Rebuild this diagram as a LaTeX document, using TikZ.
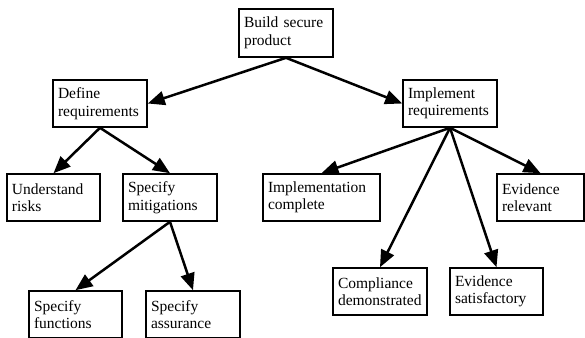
\documentclass[tikz,border=0pt]{standalone}
\usepackage{fontspec}
\setmainfont{Liberation Serif}
\usetikzlibrary{arrows.meta}
\begin{document}
\begin{tikzpicture}[x=1pt,y=-1pt,
  box/.style={draw=black,line width=1.6pt,fill=white,inner xsep=5pt,inner ysep=0pt,
    minimum height=47pt,align=left,font=\fontsize{15.5}{17.5}\selectfont},
  arr/.style={line width=2.5pt,-{Triangle[length=17pt,width=14pt]}}]
\useasboundingbox (0,0) rectangle (585,337);
\clip (0,0) rectangle (585,337);
\fill[white] (0,0) rectangle (585,337);
\node[box,minimum height=48pt,text width=84pt] (build) at (286,33) {Build secure\\product};
\node[box,text width=84pt] (def) at (100,103.5) {Define\\requirements};
\node[box,text width=84pt] (imp) at (450,103.5) {Implement\\requirements};
\node[box,text width=83pt] (und) at (53.5,197.5) {Understand\\risks};
\node[box,text width=84pt] (mit) at (170,197.5) {Specify\\mitigations};
\node[box,text width=83pt] (fun) at (75.5,314.5) {Specify\\functions};
\node[box,text width=84pt] (ass) at (193,314.5) {Specify\\assurance};
\node[box,text width=107pt] (ic) at (321.5,197.5) {Implementation\\complete};
\node[box,text width=77pt] (er) at (540.5,197.5) {Evidence\\relevant};
\node[box,text width=84pt] (cd) at (380,291.5) {Compliance\\demonstrated};
\node[box,text width=83pt] (es) at (496.5,291.5) {Evidence\\satisfactory};
\draw[arr] (build.south) -- (def.east);
\draw[arr] (build.south) -- (imp.west);
\draw[arr] (def.south) -- (und.north);
\draw[arr] (def.south) -- (mit.north);
\draw[arr] (mit.south) -- (fun.north);
\draw[arr] (mit.south) -- (ass.north);
\draw[arr] (imp.south) -- (ic.north);
\draw[arr] (imp.south) -- (cd.north);
\draw[arr] (imp.south) -- (es.north);
\draw[arr] (imp.south) -- (er.north);
\end{tikzpicture}
\end{document}
